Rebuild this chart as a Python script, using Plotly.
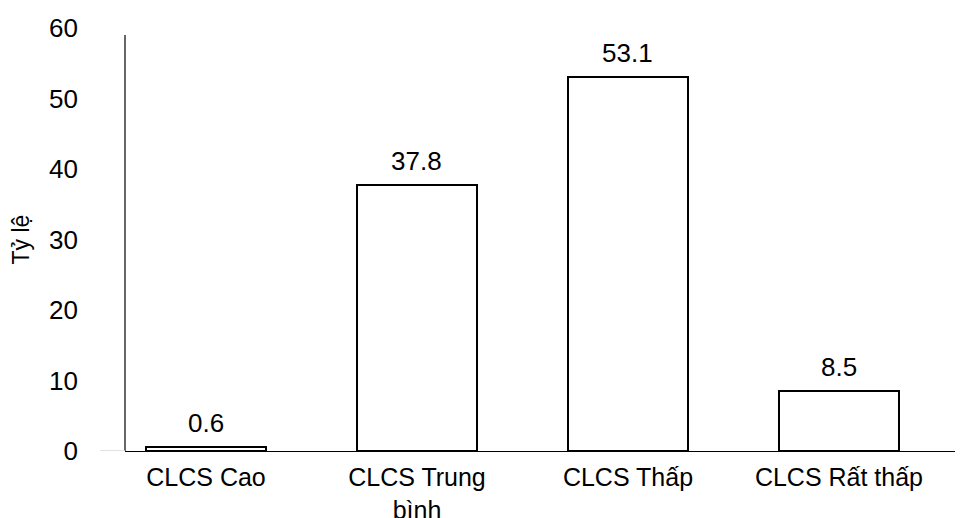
import plotly.graph_objects as go

categories = ["CLCS Cao", "CLCS Trung<br>bình", "CLCS Thấp", "CLCS Rất thấp"]
values = [0.6, 37.8, 53.1, 8.5]
value_labels = ["0.6", "37.8", "53.1", "8.5"]
y_ticks = [0, 10, 20, 30, 40, 50, 60]

FONT = "Liberation Sans, Arial, sans-serif"
FS = 26

# page body has an 8px default margin, so the figure is drawn at (8, 8)
W, H = 955, 510
L, R, T, B = 117, 0, 20, 67
plot_w = W - L - R

x_idx = list(range(len(categories)))

fig = go.Figure()
fig.add_trace(go.Bar(
    x=x_idx, y=values, width=0.573,
    marker=dict(color="white", line=dict(color="black", width=2)),
    hoverinfo="skip",
))

for xi, v, t in zip(x_idx, values, value_labels):
    fig.add_annotation(x=xi, y=v, text=t, showarrow=False, yanchor="middle",
                       yshift=24, font=dict(family=FONT, size=FS, color="black"))

# y-axis title
fig.add_annotation(xref="paper", yref="paper", x=-(L + 8 - 20) / plot_w, y=0.5,
                   text="Tỷ lệ", textangle=-90, showarrow=False,
                   xanchor="center", yanchor="middle",
                   font=dict(family=FONT, size=FS - 3, color="black"))

# vertical axis line
fig.add_shape(type="line", xref="paper", yref="y", x0=0, x1=0, y0=0, y1=59.0,
              line=dict(color="black", width=1.2))
# small gray tick at zero
fig.add_shape(type="line", xref="paper", yref="y", x0=-25 / plot_w, x1=0, y0=0, y1=0,
              line=dict(color="#d9d9d9", width=1.5))

fig.update_layout(
    width=W, height=H,
    margin=dict(l=L, r=R, t=T, b=B, pad=0),
    paper_bgcolor="white", plot_bgcolor="white",
    showlegend=False,
    font=dict(family=FONT, size=FS, color="black"),
    xaxis=dict(
        range=[-0.384, 3.588], tickmode="array", tickvals=x_idx, ticktext=categories,
        showline=True, linecolor="black", linewidth=1.2, showgrid=False,
        zeroline=False, ticks="", ticklabelstandoff=4, automargin=False,
        tickfont=dict(family=FONT, size=FS - 1, color="black"),
    ),
    yaxis=dict(
        range=[0, 60], tickmode="array", tickvals=y_ticks,
        showline=False, showgrid=False, zeroline=False, ticks="",
        ticklabelstandoff=46, automargin=False,
        tickfont=dict(family=FONT, size=FS, color="black"),
    ),
    bargap=0,
)

fig.write_html("out.html")
